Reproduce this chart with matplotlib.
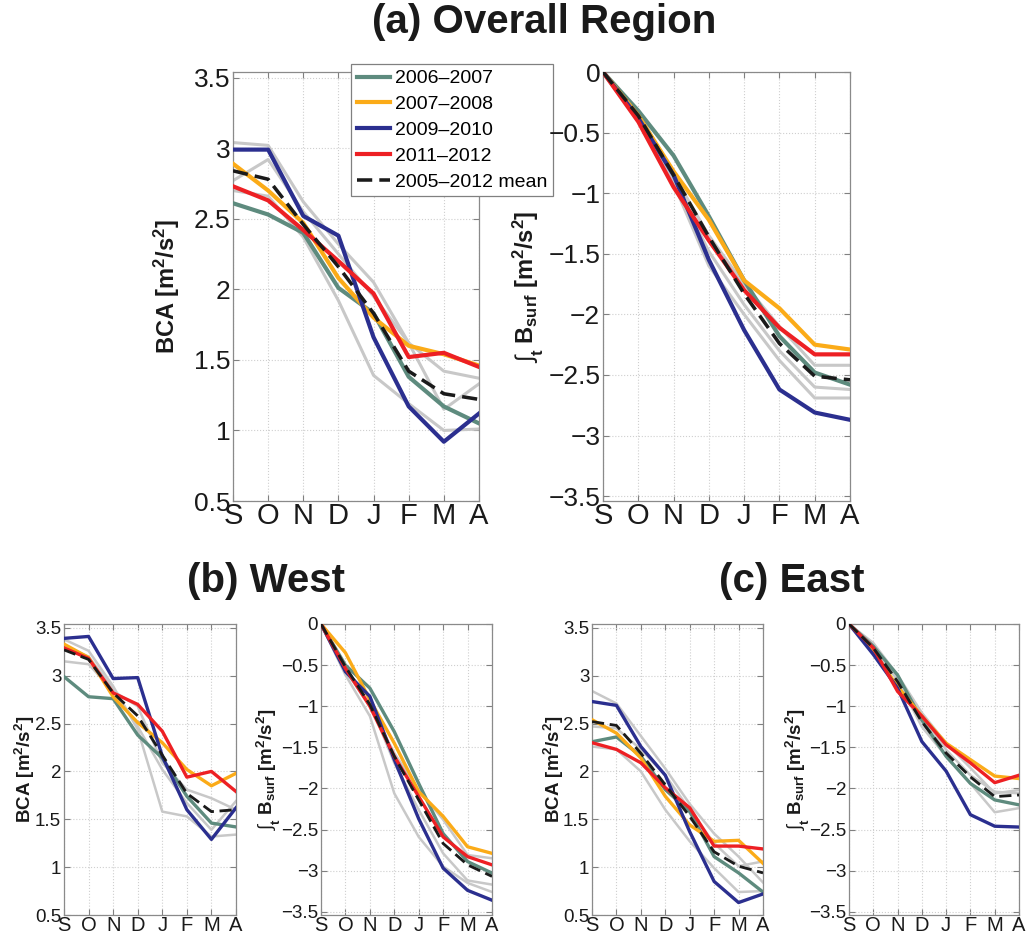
import matplotlib
matplotlib.use("Agg")
import matplotlib.pyplot as plt
from matplotlib.ticker import FuncFormatter

plt.rcParams['font.family'] = ['Liberation Sans', 'DejaVu Sans']
plt.rcParams['mathtext.fontset'] = 'custom'
plt.rcParams['mathtext.rm'] = 'Liberation Sans'
plt.rcParams['mathtext.bf'] = 'Liberation Sans:bold'
plt.rcParams['mathtext.it'] = 'Liberation Sans:italic'

months = ['S', 'O', 'N', 'D', 'J', 'F', 'M', 'A']
series_labels = ['2006–2007', '2007–2008', '2009–2010', '2011–2012', '2005–2012 mean']
series_colors = ['#5e8b7e', '#fbab18', '#2b2f8f', '#ed2024', '#1a1a1a']

# ---------------- (a) Overall region ----------------
a_bca_gray = [
    [3.04, 3.02, 2.62, 2.32, 2.05, 1.62, 1.15, 1.33],
    [2.77, 2.92, 2.55, 2.25, 1.95, 1.62, 1.42, 1.37],
    [2.70, 2.66, 2.37, 1.92, 1.39, 1.19, 1.00, 1.01],
]
a_bca_0607 = [2.61, 2.53, 2.40, 2.01, 1.83, 1.38, 1.17, 1.05]
a_bca_0708 = [2.89, 2.70, 2.47, 2.08, 1.80, 1.60, 1.54, 1.46]
a_bca_0910 = [2.99, 2.99, 2.52, 2.38, 1.66, 1.17, 0.92, 1.12]
a_bca_1112 = [2.73, 2.63, 2.42, 2.20, 1.97, 1.52, 1.55, 1.45]
a_bca_mean = [2.84, 2.78, 2.46, 2.16, 1.83, 1.42, 1.26, 1.22]

a_b_gray = [
    [0, -0.33, -0.85, -1.35, -1.75, -2.10, -2.42, -2.42],
    [0, -0.37, -0.90, -1.48, -1.92, -2.30, -2.60, -2.62],
    [0, -0.35, -0.92, -1.60, -2.00, -2.38, -2.69, -2.69],
]
a_b_0607 = [0, -0.32, -0.69, -1.19, -1.72, -2.18, -2.48, -2.58]
a_b_0708 = [0, -0.36, -0.82, -1.22, -1.72, -1.95, -2.25, -2.29]
a_b_0910 = [0, -0.38, -0.85, -1.55, -2.13, -2.62, -2.81, -2.87]
a_b_1112 = [0, -0.41, -0.95, -1.39, -1.80, -2.11, -2.33, -2.33]
a_b_mean = [0, -0.36, -0.85, -1.36, -1.83, -2.24, -2.51, -2.54]

# ---------------- (b) West ----------------
b_bca_gray = [
    [3.15, 3.12, 2.84, 2.68, 2.09, 1.81, 1.72, 1.60],
    [3.38, 3.26, 2.89, 2.44, 1.58, 1.53, 1.32, 1.34],
    [3.31, 3.20, 2.86, 2.47, 2.02, 1.67, 1.39, 1.69],
]
b_bca_0607 = [2.99, 2.78, 2.76, 2.38, 2.14, 1.74, 1.46, 1.42]
b_bca_0708 = [3.33, 3.19, 2.78, 2.51, 2.30, 2.02, 1.85, 1.98]
b_bca_0910 = [3.39, 3.41, 2.97, 2.98, 2.16, 1.60, 1.29, 1.62]
b_bca_1112 = [3.29, 3.18, 2.82, 2.70, 2.42, 1.94, 2.00, 1.79]
b_bca_mean = [3.27, 3.17, 2.82, 2.58, 2.17, 1.77, 1.58, 1.60]

b_b_gray = [
    [0, -0.62, -1.12, -2.06, -2.59, -2.95, -3.15, -3.26],
    [0, -0.56, -1.00, -1.57, -2.02, -2.38, -2.81, -2.85],
    [0, -0.58, -0.96, -1.69, -2.26, -2.79, -3.12, -3.17],
]
b_b_0607 = [0, -0.50, -0.78, -1.31, -1.94, -2.55, -2.89, -3.03]
b_b_0708 = [0, -0.35, -0.92, -1.45, -2.04, -2.34, -2.71, -2.79]
b_b_0910 = [0, -0.58, -0.88, -1.65, -2.37, -2.97, -3.24, -3.36]
b_b_1112 = [0, -0.54, -1.00, -1.61, -2.10, -2.59, -2.83, -2.93]
b_b_mean = [0, -0.52, -0.98, -1.61, -2.14, -2.67, -2.93, -3.07]

# ---------------- (c) East ----------------
c_bca_gray = [
    [2.84, 2.71, 2.37, 2.03, 1.66, 1.35, 1.11, 0.84],
    [2.26, 2.23, 2.00, 1.60, 1.27, 0.99, 0.74, 0.75],
    [2.47, 2.45, 2.23, 1.96, 1.60, 1.25, 1.01, 1.06],
]
c_bca_0607 = [2.31, 2.36, 2.16, 1.81, 1.58, 1.11, 0.94, 0.74]
c_bca_0708 = [2.54, 2.40, 2.14, 1.74, 1.44, 1.27, 1.28, 1.04]
c_bca_0910 = [2.73, 2.69, 2.26, 1.96, 1.37, 0.85, 0.63, 0.72]
c_bca_1112 = [2.30, 2.23, 2.09, 1.83, 1.62, 1.22, 1.22, 1.19]
c_bca_mean = [2.52, 2.48, 2.19, 1.86, 1.53, 1.16, 1.01, 0.94]

c_b_gray = [
    [0, -0.23, -0.62, -1.08, -1.45, -1.75, -2.06, -2.02],
    [0, -0.31, -0.68, -1.25, -1.61, -1.94, -2.29, -2.24],
    [0, -0.27, -0.64, -1.12, -1.53, -1.84, -2.04, -2.06],
]
c_b_0607 = [0, -0.27, -0.62, -1.17, -1.61, -1.94, -2.14, -2.20]
c_b_0708 = [0, -0.33, -0.76, -1.12, -1.45, -1.65, -1.85, -1.88]
c_b_0910 = [0, -0.37, -0.78, -1.43, -1.79, -2.32, -2.46, -2.47]
c_b_1112 = [0, -0.29, -0.82, -1.12, -1.47, -1.69, -1.93, -1.84]
c_b_mean = [0, -0.29, -0.70, -1.19, -1.57, -1.86, -2.10, -2.08]

bca_ticks = [0.5, 1, 1.5, 2, 2.5, 3, 3.5]
b_ticks = [-3.5, -3, -2.5, -2, -1.5, -1, -0.5, 0]

W, H = 1031, 939
fig = plt.figure(figsize=(W / 100, H / 100), dpi=100)


def make_ax(l, r, t, b):
    return fig.add_axes([l / W, 1 - b / H, (r - l) / W, (b - t) / H])


fmt = FuncFormatter(lambda v, p: ('%g' % v).replace('-', '\u2212'))
BCA_LABEL = r'BCA [m$^\mathbf{2}$/s$^\mathbf{2}$]'
B_LABEL = r'$\int_\mathbf{t}$ $\mathbf{B_{surf}}$ [m$^\mathbf{2}$/s$^\mathbf{2}$]'


def draw(ax, grays, lines, ylim, yticks, ylabel, xfs, yfs, lfs, lw_c, lw_g, labx):
    x = list(range(len(months)))
    for g in grays:
        ax.plot(x, g, color='#c8c8c8', lw=lw_g, zorder=2)
    for vals, col, lab in zip(lines[:4], series_colors[:4], series_labels[:4]):
        ax.plot(x, vals, color=col, lw=lw_c, label=lab, zorder=3)
    ax.plot(x, lines[4], color=series_colors[4], lw=lw_c * 0.85, ls=(0, (4.3, 2.0)),
            label=series_labels[4], zorder=4)
    ax.set_xlim(0, 7)
    ax.set_ylim(*ylim)
    ax.set_xticks(x)
    ax.set_xticklabels(months, fontsize=xfs)
    ax.set_yticks(yticks)
    ax.yaxis.set_major_formatter(fmt)
    ax.tick_params(axis='y', labelsize=yfs)
    ax.tick_params(direction='in', top=True, right=True, length=4, width=0.8,
                   color='#808080', labelcolor='#1a1a1a', pad=2)
    ax.tick_params(axis='x', pad=1)
    ax.grid(True, ls=':', color='#cfcfcf', lw=0.8)
    for s in ax.spines.values():
        s.set_color('#8a8a8a')
        s.set_linewidth(0.9)
    ax.set_ylabel(ylabel, fontsize=lfs, fontweight='bold', color='#1a1a1a')
    ax.yaxis.set_label_coords(labx, 0.5)


ax1 = make_ax(233, 479, 72, 501)
ax2 = make_ax(603, 850, 72, 501)
ax3 = make_ax(64, 236, 624, 915)
ax4 = make_ax(321, 492, 624, 915)
ax5 = make_ax(592, 763, 624, 915)
ax6 = make_ax(849, 1019, 624, 915)

draw(ax1, a_bca_gray, [a_bca_0607, a_bca_0708, a_bca_0910, a_bca_1112, a_bca_mean],
     (0.5, 3.54), bca_ticks, BCA_LABEL, 21, 19, 17, 3.0, 2.2, -0.207)
draw(ax2, a_b_gray, [a_b_0607, a_b_0708, a_b_0910, a_b_1112, a_b_mean],
     (-3.54, 0), b_ticks, B_LABEL, 21, 19, 17, 3.0, 2.2, -0.23)
draw(ax3, b_bca_gray, [b_bca_0607, b_bca_0708, b_bca_0910, b_bca_1112, b_bca_mean],
     (0.5, 3.54), bca_ticks, BCA_LABEL, 14.5, 13.5, 13.5, 2.4, 1.8, -0.157)
draw(ax4, b_b_gray, [b_b_0607, b_b_0708, b_b_0910, b_b_1112, b_b_mean],
     (-3.54, 0), b_ticks, B_LABEL, 14.5, 13.5, 13.5, 2.4, 1.8, -0.225)
draw(ax5, c_bca_gray, [c_bca_0607, c_bca_0708, c_bca_0910, c_bca_1112, c_bca_mean],
     (0.5, 3.54), bca_ticks, BCA_LABEL, 14.5, 13.5, 13.5, 2.4, 1.8, -0.152)
draw(ax6, c_b_gray, [c_b_0607, c_b_0708, c_b_0910, c_b_1112, c_b_mean],
     (-3.54, 0), b_ticks, B_LABEL, 14.5, 13.5, 13.5, 2.4, 1.8, -0.218)

leg = ax1.legend(loc='upper left', bbox_to_anchor=(351 / W, 1 - 64 / H),
                 bbox_transform=fig.transFigure, fontsize=14, frameon=True,
                 fancybox=False, framealpha=1, edgecolor='#808080',
                 handlelength=1.7, handletextpad=0.25, borderpad=0.3,
                 labelspacing=0.42, borderaxespad=0)
leg.get_frame().set_linewidth(0.9)
leg.set_zorder(10)

fig.text(544 / W, 1 - 22 / H, '(a) Overall Region', ha='center', va='center',
         fontsize=29, fontweight='bold', color='#1a1a1a')
fig.text(266 / W, 1 - 592 / H, '(b) West', ha='center', va='baseline',
         fontsize=29, fontweight='bold', color='#1a1a1a')
fig.text(792 / W, 1 - 592 / H, '(c) East', ha='center', va='baseline',
         fontsize=29, fontweight='bold', color='#1a1a1a')

fig.savefig('out.png', dpi=100)
